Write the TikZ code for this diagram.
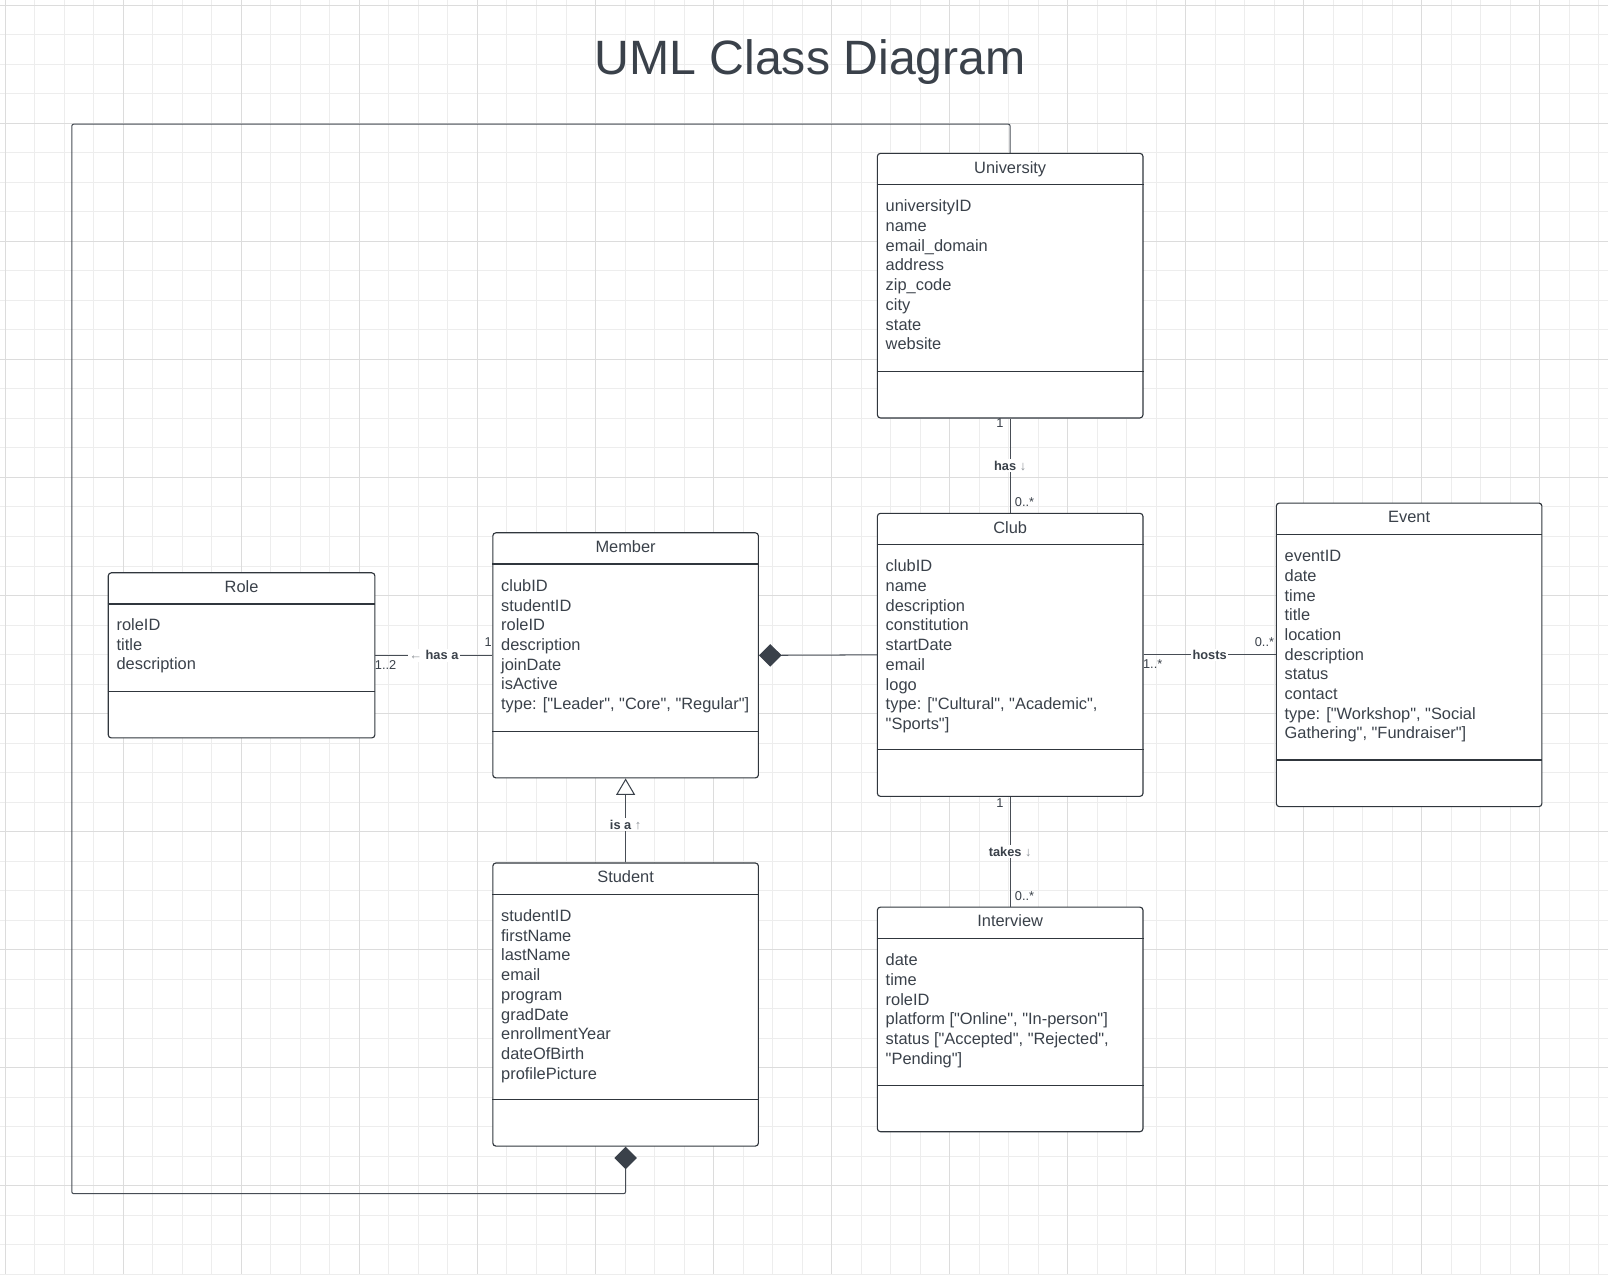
\documentclass[tikz,border=0pt]{standalone}
\usepackage{fontspec}
\setmainfont{Liberation Sans}[Ligatures=TeXOff]
\usetikzlibrary{arrows.meta}
\definecolor{ink}{HTML}{3A414A}
\definecolor{edgec}{HTML}{30363D}
\definecolor{gmin}{HTML}{EDEDED}
\definecolor{gmaj}{HTML}{DCDCDC}
\definecolor{linec}{HTML}{474D55}
\definecolor{arrowc}{HTML}{8A8F95}
\newcommand{\attrsize}{\fontsize{16}{19.2}\selectfont}
\newcommand{\lblsize}{\fontsize{12.5}{15}\selectfont}
\newcommand{\titlesize}{\fontsize{47}{56}\selectfont}
\begin{document}
\begin{tikzpicture}[x=1pt,y=-1pt,
  cls/.style={draw=edgec, line width=1.1pt, rounded corners=3pt, fill=white, inner sep=0pt, anchor=north west},
  sepline/.style={draw=edgec, line width=1.1pt},
  hdr/.style={anchor=base, inner sep=0pt, font=\attrsize, text=ink},
  attr/.style={anchor=north west, inner sep=0pt, align=left, font=\attrsize, text=ink},
  conn/.style={draw=linec, line width=1pt},
  lbl/.style={fill=white, inner sep=1.5pt, font=\lblsize\bfseries, text=ink},
  mult/.style={inner sep=0pt, font=\lblsize, text=ink},
  comp/.style={-{Diamond[length=22pt,width=22pt,color=ink,fill=ink]}},
  gen/.style={-{Triangle[open,length=16pt,width=18.5pt,color=ink,fill=white]}},
  gminor/.style={draw=gmin, line width=0.8pt},
  gmajor/.style={draw=gmaj, line width=0.9pt}
]
\useasboundingbox (0,0) rectangle (1568,1242.4);
\fill[white] (0,0) rectangle (1568,1242.4);
% grid
\foreach \i in {0,...,54} {\draw[gminor] ({5.2+\i*28.77},0) -- ({5.2+\i*28.77},1242.4);}
\foreach \i in {0,...,43} {\draw[gminor] (0,{5.2+\i*28.77}) -- (1568,{5.2+\i*28.77});}
\foreach \i in {0,...,13} {\draw[gmajor] ({5.2+\i*115.08},0) -- ({5.2+\i*115.08},1242.4);}
\foreach \i in {0,...,10} {\draw[gmajor] (0,{5.2+\i*115.08}) -- (1568,{5.2+\i*115.08});}

% title
\node[anchor=base, inner sep=0pt, font=\titlesize, text=ink] (title) at (790,72.5) {UML Class Diagram};

% loop connector corners (University -> Student composition)
\coordinate (lt) at (70,121);
\coordinate (lb) at (70,1164);

% classes
\node[cls, minimum width=259pt, minimum height=258pt] (uni) at (855,149) {};
\node[cls, minimum width=259pt, minimum height=276pt] (club) at (855,500) {};
\node[cls, minimum width=259pt, minimum height=296pt] (event) at (1244,490) {};
\node[cls, minimum width=259pt, minimum height=239pt] (member) at (480,519) {};
\node[cls, minimum width=260pt, minimum height=161pt] (role) at (105,558) {};
\node[cls, minimum width=259pt, minimum height=276pt] (stu) at (480,841) {};
\node[cls, minimum width=259pt, minimum height=219pt] (intv) at (855,884) {};

\foreach \b in {uni,club,event,member,role,stu,intv} {
  \draw[sepline] ([yshift=-31pt]\b.north west) -- ([yshift=-31pt]\b.north east);
  \draw[sepline] ([yshift=46pt]\b.south west) -- ([yshift=46pt]\b.south east);
}

% headers
\node[hdr] (uniH) at ([yshift=-19.8pt]uni.north) {University};
\node[hdr] (clubH) at ([yshift=-19.8pt]club.north) {Club};
\node[hdr] (eventH) at ([yshift=-19.8pt]event.north) {Event};
\node[hdr] (memberH) at ([yshift=-19.8pt]member.north) {Member};
\node[hdr] (roleH) at ([yshift=-19.8pt]role.north) {Role};
\node[hdr] (stuH) at ([yshift=-19.8pt]stu.north) {Student};
\node[hdr] (intvH) at ([yshift=-19.8pt]intv.north) {Interview};

% attributes
\node[attr] (uniA) at ([xshift=8.5pt,yshift=-44pt]uni.north west) {\strut universityID\\name\\email\_domain\\address\\zip\_code\\city\\state\\website};
\node[attr] (clubA) at ([xshift=8.5pt,yshift=-44pt]club.north west) {\strut clubID\\name\\description\\constitution\\startDate\\email\\logo\\type: ["Cultural", "Academic",\\"Sports"]};
\node[attr] (eventA) at ([xshift=8.5pt,yshift=-44pt]event.north west) {\strut eventID\\date\\time\\title\\location\\description\\status\\contact\\type: ["Workshop", "Social\\Gathering", "Fundraiser"]};
\node[attr] (memberA) at ([xshift=8.5pt,yshift=-44pt]member.north west) {\strut clubID\\studentID\\roleID\\description\\joinDate\\isActive\\type: ["Leader", "Core", "Regular"]};
\node[attr] (roleA) at ([xshift=8.5pt,yshift=-43pt]role.north west) {\strut roleID\\title\\description};
\node[attr] (stuA) at ([xshift=8.5pt,yshift=-44pt]stu.north west) {\strut studentID\\firstName\\lastName\\email\\program\\gradDate\\enrollmentYear\\dateOfBirth\\profilePicture};
\node[attr] (intvA) at ([xshift=8.5pt,yshift=-44pt]intv.north west) {\strut date\\time\\roleID\\platform ["Online", "In-person"]\\status ["Accepted", "Rejected",\\"Pending"]};

% connectors
\draw[conn] (uni.south) -- node[lbl] (lhas) {has {\color{arrowc}↓}} (club.north);
\draw[conn, comp] (club.west) -- (member.east);
\draw[conn] (role.east) -- node[lbl] (lhasa) {{\color{arrowc}←} has a} (member.west);
\draw[conn] (club.east) -- node[lbl] (lhosts) {hosts} (event.west);
\draw[conn, gen] (stu.north) -- node[lbl, pos=0.45] (lisa) {is a {\color{arrowc}↑}} (member.south);
\draw[conn] (club.south) -- node[lbl] (ltakes) {takes {\color{arrowc}↓}} (intv.north);
\draw[conn, comp, rounded corners=2pt] (uni.north) -- (uni.north |- lt) -- (lt) -- (lb) -- (lb -| stu.south) -- (stu.south);

% multiplicities
\node[mult] (m1) at (975,413) {1};
\node[mult] (m2) at (999,490) {0..*};
\node[mult] (m3) at (376,648) {1..2};
\node[mult] (m4) at (476,626) {1};
\node[mult] (m5) at (1124,648) {1..*};
\node[mult] (m6) at (1233,626) {0..*};
\node[mult] (m7) at (975,783) {1};
\node[mult] (m8) at (999,874) {0..*};
\end{tikzpicture}
\end{document}
